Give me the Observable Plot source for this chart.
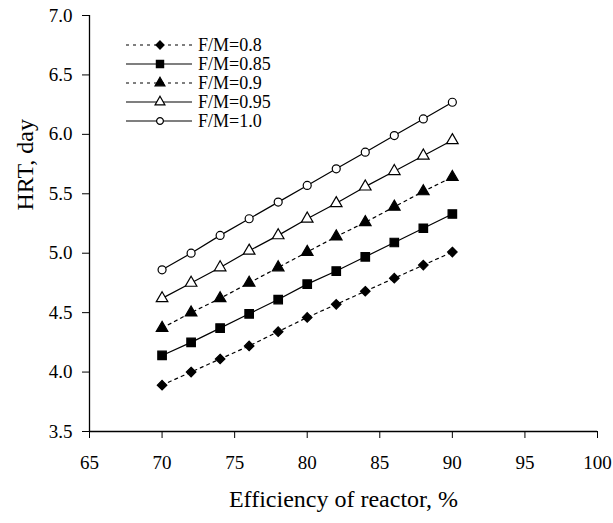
<!DOCTYPE html>
<html><head><meta charset="utf-8">
<script src="https://cdn.jsdelivr.net/npm/d3@7"></script>
<script src="https://cdn.jsdelivr.net/npm/@observablehq/plot@0.6"></script>
<style>body{margin:0;background:#fff;}</style>
</head><body><div id="chart"></div>
<script>
const efficiency = [70, 72, 74, 76, 78, 80, 82, 84, 86, 88, 90];
const fm080 = [3.89, 4.00, 4.11, 4.22, 4.34, 4.46, 4.57, 4.68, 4.79, 4.90, 5.01];
const fm085 = [4.14, 4.25, 4.37, 4.49, 4.61, 4.74, 4.85, 4.97, 5.09, 5.21, 5.33];
const fm090 = [4.37, 4.50, 4.62, 4.75, 4.88, 5.01, 5.14, 5.26, 5.39, 5.52, 5.64];
const fm095 = [4.62, 4.75, 4.88, 5.02, 5.15, 5.29, 5.42, 5.56, 5.69, 5.82, 5.95];
const fm100 = [4.86, 5.00, 5.15, 5.29, 5.43, 5.57, 5.71, 5.85, 5.99, 6.13, 6.27];
const seriesValues = [fm080, fm085, fm090, fm095, fm100];
const seriesNames = ["F/M=0.8", "F/M=0.85", "F/M=0.9", "F/M=0.95", "F/M=1.0"];
const seriesSymbols = ["diamond2", "square", "triangle", "triangle", "circle"];
const seriesFills = ["black", "black", "black", "white", "white"];
const seriesDash = ["3,4", null, "3,4", null, null];
const xTicks = [65, 70, 75, 80, 85, 90, 95, 100];
const yTicks = [3.5, 4.0, 4.5, 5.0, 5.5, 6.0, 6.5, 7.0];
const xTitle = "Efficiency of reactor, %";
const yTitle = "HRT, day";

const symbolR = {diamond2: 4.3, square: 4.8, triangle: 4.3, circle: 4.0};

const rows = [];
seriesValues.forEach((vals, i) => vals.forEach((v, j) => rows.push({x: efficiency[j], y: v, i})));

const marks = [
  Plot.ruleY([3.5], {stroke: "black", strokeWidth: 1.3}),
  Plot.ruleX([65], {stroke: "black", strokeWidth: 1.3}),
  Plot.axisX({ticks: xTicks, tickSize: 7, tickPadding: 17, label: null, tickFormat: d => String(d), fontSize: 19}),
  Plot.axisY({ticks: yTicks, tickSize: 7, tickPadding: 10, label: null, tickFormat: d => d.toFixed(1), fontSize: 19}),
];
seriesNames.forEach((name, i) => {
  const d = rows.filter(r => r.i === i);
  marks.push(Plot.line(d, {x: "x", y: "y", stroke: "black", strokeWidth: 1.2, strokeDasharray: seriesDash[i] || "none"}));
});
seriesNames.forEach((name, i) => {
  const d = rows.filter(r => r.i === i);
  marks.push(Plot.dot(d, {x: "x", y: "y", symbol: seriesSymbols[i], fill: seriesFills[i], stroke: "black", strokeWidth: 1.2, r: symbolR[seriesSymbols[i]]}));
});
marks.push(Plot.text([xTitle], {frameAnchor: "bottom", dy: 75, text: d => d, fontSize: 24}));
marks.push(Plot.text([yTitle], {frameAnchor: "left", dx: -64, dy: -13, rotate: -90, text: d => d, fontSize: 24}));

const chart = Plot.plot({
  width: 613, height: 523,
  marginLeft: 89, marginTop: 15, marginBottom: 92, marginRight: 16,
  x: {domain: [65, 100]},
  y: {domain: [3.5, 7.0]},
  style: {fontFamily: "'Liberation Serif', 'Times New Roman', serif", fontSize: "19px", color: "black", background: "white"},
  marks
});

// Legend
const svg = d3.select(chart);
const lg = svg.append("g").attr("font-family", "'Liberation Serif', serif").attr("font-size", 18).attr("text-anchor", "start").attr("fill", "black");
const symMap = {diamond2: d3.symbolDiamond2, square: d3.symbolSquare, triangle: d3.symbolTriangle, circle: d3.symbolCircle};
seriesNames.forEach((name, i) => {
  const y = 45 + i * 19;
  lg.append("line").attr("x1", 126).attr("x2", 192).attr("y1", y).attr("y2", y)
    .attr("stroke", "black").attr("stroke-width", 1.2)
    .attr("stroke-dasharray", seriesDash[i] || null);
  const r = symbolR[seriesSymbols[i]] * 0.85;
  lg.append("path").attr("d", d3.symbol(symMap[seriesSymbols[i]], Math.PI * r * r)())
    .attr("transform", `translate(160,${y})`)
    .attr("fill", seriesFills[i]).attr("stroke", "black").attr("stroke-width", 1.2);
  lg.append("text").attr("x", 198).attr("y", y).attr("dy", "0.35em").text(name);
});

document.getElementById("chart").appendChild(chart);
</script>
</body></html>
